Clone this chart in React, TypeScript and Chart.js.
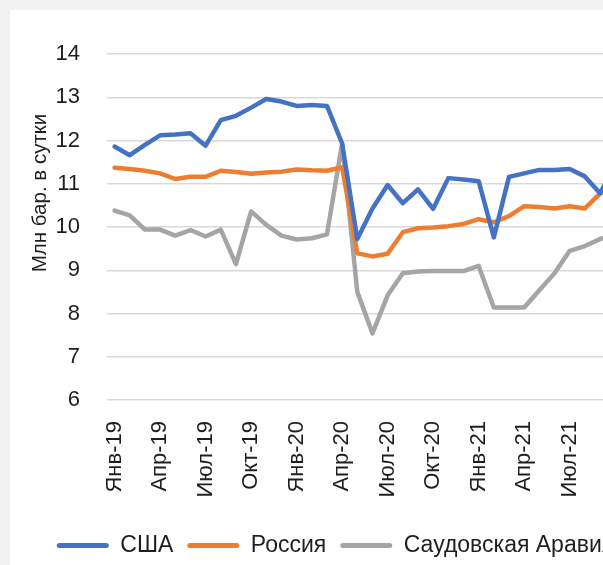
import React, { useEffect, useRef } from 'react';
import { Chart, registerables } from 'chart.js';
Chart.register(...registerables);

const categories = [
  'Янв-19', 'Фев-19', 'Мар-19', 'Апр-19', 'Май-19', 'Июн-19', 'Июл-19', 'Авг-19', 'Сен-19', 'Окт-19', 'Ноя-19', 'Дек-19',
  'Янв-20', 'Фев-20', 'Мар-20', 'Апр-20', 'Май-20', 'Июн-20', 'Июл-20', 'Авг-20', 'Сен-20', 'Окт-20', 'Ноя-20', 'Дек-20',
  'Янв-21', 'Фев-21', 'Мар-21', 'Апр-21', 'Май-21', 'Июн-21', 'Июл-21', 'Авг-21', 'Сен-21', 'Окт-21', 'Ноя-21',
];

const usa = [
  11.86, 11.66, 11.90, 12.12, 12.14, 12.17, 11.88, 12.47, 12.57, 12.76, 12.96, 12.90,
  12.80, 12.82, 12.80, 11.93, 9.72, 10.43, 10.97, 10.55, 10.87, 10.42, 11.13, 11.10,
  11.06, 9.76, 11.16, 11.24, 11.32, 11.32, 11.34, 11.17, 10.78, 11.45, 11.60,
];

const russia = [
  11.37, 11.34, 11.30, 11.24, 11.11, 11.16, 11.16, 11.30, 11.27, 11.23, 11.26, 11.28,
  11.33, 11.31, 11.30, 11.38, 9.39, 9.32, 9.38, 9.88, 9.97, 9.99, 10.02, 10.07,
  10.18, 10.11, 10.25, 10.48, 10.46, 10.43, 10.48, 10.43, 10.77, 10.95, 11.00,
];

const saudi = [
  10.38, 10.27, 9.94, 9.94, 9.80, 9.93, 9.78, 9.94, 9.14, 10.36, 10.05, 9.80,
  9.71, 9.74, 9.83, 11.93, 8.50, 7.54, 8.42, 8.93, 8.97, 8.98, 8.98, 8.98,
  9.10, 8.14, 8.14, 8.14, 8.54, 8.93, 9.45, 9.56, 9.72, 9.85, 9.95,
];

const seriesNames = ['США', 'Россия', 'Саудовская Аравия'];
const seriesColors = ['#4472c4', '#ed7d31', '#a5a5a5'];
const yMin = 6;
const yMax = 14;
const yStep = 1;
const yTitle = 'Млн бар. в сутки';

const W = 668;
const H = 565;
const FONT = '"Liberation Sans", Arial, sans-serif';
const TEXT = '#1e1e1e';

export default function App() {
  const ref = useRef<HTMLCanvasElement>(null);

  useEffect(() => {
    const titlePlugin = {
      id: 'yTitleDraw',
      afterDraw(chart: any) {
        const c = chart.ctx;
        c.save();
        c.translate(30, 183);
        c.rotate(-Math.PI / 2);
        c.font = `20.5px ${FONT}`;
        c.fillStyle = TEXT;
        c.textAlign = 'center';
        c.textBaseline = 'middle';
        c.fillText(yTitle, 0, 0);
        c.restore();
      },
    };
    const values = [usa, russia, saudi];
    const chart = new Chart(ref.current!, {
      type: 'line',
      data: {
        labels: categories,
        datasets: values.map((d, i) => ({
          label: seriesNames[i],
          data: d,
          borderColor: seriesColors[i],
          backgroundColor: seriesColors[i],
          borderWidth: 4.5,
          pointRadius: 0,
          tension: 0,
          borderJoinStyle: 'round' as const,
          borderCapStyle: 'round' as const,
        })),
      },
      options: {
        animation: false,
        responsive: false,
        devicePixelRatio: 1,
        layout: { padding: { top: 44, right: 17, left: 0, bottom: 8 } },
        plugins: {
          legend: {
            position: 'bottom',
            labels: {
              boxWidth: 52,
              boxHeight: 5,
              useBorderRadius: true,
              borderRadius: 2.5,
              padding: 14,
              color: TEXT,
              font: { family: FONT, size: 23 },
              generateLabels: (ch: any) =>
                (Chart.defaults.plugins.legend.labels.generateLabels as any)(ch).map((l: any) => ({ ...l, lineWidth: 0 })),
            },
          },
          tooltip: { enabled: false },
        },
        scales: {
          x: {
            type: 'category',
            offset: true,
            grid: { display: false, drawTicks: false },
            border: { display: false },
            ticks: {
              autoSkip: false,
              maxRotation: 90,
              minRotation: 90,
              padding: 21,
              color: TEXT,
              font: { family: FONT, size: 22 },
              callback: (_v: any, i: number) => (i % 3 === 0 ? categories[i] : ''),
            },
            afterFit: (s: any) => { s.height = 120; },
          },
          y: {
            min: yMin,
            max: yMax,
            ticks: { stepSize: yStep, padding: 27, color: TEXT, font: { family: FONT, size: 22 } },
            grid: { color: '#d9d9d9', lineWidth: 1.5, drawTicks: false },
            border: { display: false },
            afterFit: (s: any) => { s.width = 97; },
          },
        },
      },
      plugins: [titlePlugin],
    });
    return () => chart.destroy();
  }, []);

  return (
    <div style={{ position: 'fixed', left: 0, top: 0, width: 603, height: 565, background: '#f2f2f2', overflow: 'hidden' }}>
      <div style={{ position: 'absolute', left: 10, top: 10, width: W, height: H, background: '#ffffff' }}>
        <canvas ref={ref} width={W} height={H} style={{ display: 'block', width: W, height: H }} />
      </div>
    </div>
  );
}
